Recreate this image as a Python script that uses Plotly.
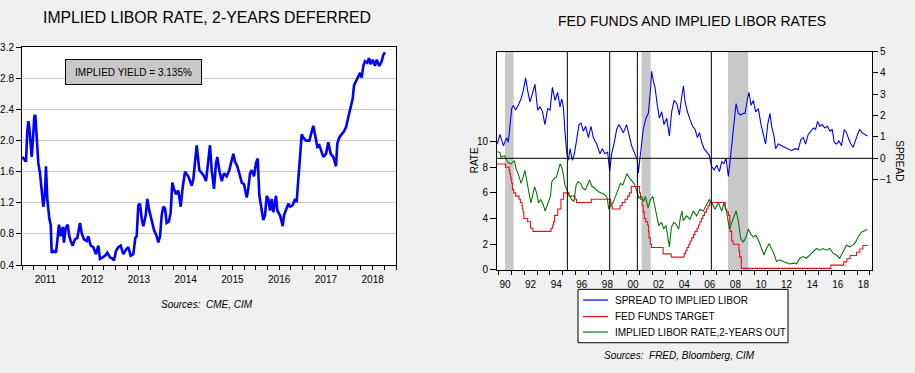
import plotly.graph_objects as go

W, H = 915, 373

# ---------------- Left chart: implied LIBOR rate, 2-years deferred ----------------
libor_def_t = [2011.006, 2011.086, 2011.113, 2011.135, 2011.156, 2011.186, 2011.207, 2011.229, 2011.263,
               2011.285, 2011.314, 2011.349, 2011.385, 2011.421, 2011.456, 2011.492, 2011.513, 2011.541,
               2011.584, 2011.614, 2011.635, 2011.684, 2011.727, 2011.755, 2011.791, 2011.828, 2011.871,
               2011.898, 2011.935, 2011.978, 2012.012, 2012.042, 2012.084, 2012.134, 2012.183, 2012.241,
               2012.277, 2012.326, 2012.384, 2012.418, 2012.47, 2012.525, 2012.583, 2012.632, 2012.668,
               2012.726, 2012.775, 2012.825, 2012.882, 2012.94, 2012.968, 2013.011, 2013.06, 2013.111,
               2013.167, 2013.225, 2013.274, 2013.325, 2013.381, 2013.424, 2013.453, 2013.488, 2013.524,
               2013.56, 2013.595, 2013.646, 2013.68, 2013.723, 2013.774, 2013.824, 2013.881, 2013.916,
               2013.952, 2013.988, 2014.022, 2014.059, 2014.095, 2014.144, 2014.181, 2014.215, 2014.251,
               2014.294, 2014.343, 2014.395, 2014.437, 2014.487, 2014.557, 2014.63, 2014.664, 2014.737,
               2014.793, 2014.878, 2014.936, 2014.985, 2015.021, 2015.058, 2015.107, 2015.15, 2015.178,
               2015.22, 2015.272, 2015.321, 2015.379, 2015.434, 2015.486, 2015.52, 2015.556, 2015.605,
               2015.648, 2015.7, 2015.749, 2015.807, 2015.84, 2015.877, 2015.913, 2015.963, 2016.005,
               2016.042, 2016.076, 2016.127, 2016.161, 2016.198, 2016.234, 2016.269, 2016.305, 2016.341,
               2016.375, 2016.433, 2016.461, 2016.519, 2016.555, 2016.577, 2016.604, 2016.647, 2016.696,
               2016.733, 2016.79, 2016.84, 2016.876, 2016.889, 2016.932, 2016.961, 2016.983, 2017.017,
               2017.075, 2017.146, 2017.197, 2017.231, 2017.267, 2017.317, 2017.36, 2017.396, 2017.445,
               2017.503, 2017.552, 2017.603, 2017.659, 2017.717, 2017.744, 2017.787, 2017.838, 2017.888,
               2017.93, 2017.98, 2018.031, 2018.074, 2018.102, 2018.144, 2018.193, 2018.23, 2018.266,
               2018.301, 2018.337, 2018.386, 2018.422, 2018.459, 2018.502, 2018.551, 2018.587, 2018.643,
               2018.694, 2018.728, 2018.765]
libor_def_v = [1.79, 1.73, 2.12, 2.25, 2.17, 1.92, 1.79, 1.96, 2.31,
               2.33, 2.04, 1.71, 1.58, 1.30, 1.15, 1.33, 1.67, 1.25,
               1.00, 0.92, 0.56, 0.58, 0.56, 0.71, 0.92, 0.77, 0.89,
               0.69, 0.88, 0.92, 0.77, 0.71, 0.65, 0.73, 0.75, 0.94,
               0.81, 0.73, 0.71, 0.77, 0.65, 0.63, 0.54, 0.65, 0.48,
               0.50, 0.52, 0.56, 0.50, 0.48, 0.46, 0.58, 0.63, 0.65,
               0.54, 0.60, 0.63, 0.52, 0.54, 0.75, 0.77, 1.17, 1.19,
               1.00, 0.90, 1.04, 1.25, 1.10, 0.96, 0.85, 0.77, 0.69,
               0.77, 1.04, 1.15, 1.13, 0.94, 0.96, 1.08, 1.46, 1.38,
               1.31, 1.36, 1.15, 1.40, 1.60, 1.54, 1.42, 1.50, 1.94,
               1.62, 1.56, 1.48, 1.79, 1.94, 1.62, 1.38, 1.71, 1.79,
               1.62, 1.48, 1.58, 1.54, 1.62, 1.75, 1.83, 1.73, 1.67,
               1.58, 1.46, 1.44, 1.27, 1.38, 1.58, 1.62, 1.54, 1.71,
               1.77, 1.30, 1.10, 0.98, 1.04, 1.29, 1.25, 1.10, 1.25,
               1.08, 1.29, 1.10, 1.04, 0.96, 0.90, 1.04, 1.10, 1.19,
               1.15, 1.17, 1.25, 1.21, 1.33, 1.71, 1.88, 2.08, 2.04,
               2.00, 2.00, 2.12, 2.19, 2.08, 1.92, 1.94, 1.88, 1.79,
               1.83, 1.98, 1.83, 1.79, 1.67, 1.96, 2.04, 2.08, 2.12,
               2.17, 2.29, 2.42, 2.54, 2.71, 2.77, 2.83, 2.87, 2.81,
               2.96, 3.02, 3.00, 3.06, 2.98, 3.04, 2.96, 3.04, 2.96,
               3.02, 3.10, 3.135]
left_years = [2011, 2012, 2013, 2014, 2015, 2016, 2017, 2018]
left_yticks = [0.4, 0.8, 1.2, 1.6, 2.0, 2.4, 2.8, 3.2]
implied_yield_label = "IMPLIED YIELD = 3.135%"

# ---------------- Right chart: fed funds and implied LIBOR rates ----------------
ff_t = [1989.88, 1990.54, 1990.82, 1990.87, 1990.93, 1990.97, 1991.02, 1991.08, 1991.18, 1991.33,
        1991.6, 1991.7, 1991.83, 1991.85, 1991.92, 1991.97, 1992.27, 1992.5, 1992.68, 1994.09,
        1994.23, 1994.3, 1994.38, 1994.62, 1994.87, 1995.08, 1995.5, 1995.97, 1996.08, 1997.24,
        1998.74, 1998.79, 1998.88, 1999.49, 1999.65, 1999.88, 2000.08, 2000.22, 2000.37, 2001.01,
        2001.08, 2001.22, 2001.3, 2001.38, 2001.49, 2001.64, 2001.71, 2001.75, 2001.85, 2001.94,
        2002.85, 2003.48, 2004.49, 2004.61, 2004.72, 2004.86, 2004.96, 2005.09, 2005.22, 2005.34,
        2005.5, 2005.61, 2005.72, 2005.84, 2005.96, 2006.08, 2006.24, 2006.36, 2006.49, 2007.71,
        2007.83, 2007.95, 2008.06, 2008.08, 2008.21, 2008.33, 2008.77, 2008.83, 2008.96, 2015.96,
        2016.96, 2017.21, 2017.46, 2017.96, 2018.22, 2018.46, 2018.82]
ff_v = [8.25, 8.0, 7.75, 7.5, 7.25, 7.0, 6.75, 6.25, 6.0, 5.75,
        5.5, 5.25, 5.0, 4.75, 4.5, 4.0, 3.75, 3.25, 3.0, 3.25,
        3.5, 3.75, 4.25, 4.75, 5.5, 6.0, 5.75, 5.5, 5.25, 5.5,
        5.25, 5.0, 4.75, 5.0, 5.25, 5.5, 5.75, 6.0, 6.5, 6.0,
        5.5, 5.0, 4.5, 4.0, 3.75, 3.5, 3.0, 2.5, 2.0, 1.75,
        1.25, 1.0, 1.25, 1.5, 1.75, 2.0, 2.25, 2.5, 2.75, 3.0,
        3.25, 3.5, 3.75, 4.0, 4.25, 4.5, 4.75, 5.0, 5.25, 4.75,
        4.5, 4.25, 3.5, 3.0, 2.25, 2.0, 1.5, 1.0, 0.125, 0.375,
        0.625, 0.875, 1.125, 1.375, 1.625, 1.9, 1.9]

impl_t = [1989.9, 1990.1, 1990.19, 1990.45, 1990.71, 1990.97, 1991.23, 1991.36, 1991.57, 1991.75,
          1991.93, 1992.06, 1992.19, 1992.34, 1992.52, 1992.65, 1992.81, 1992.97, 1993.12, 1993.3,
          1993.48, 1993.64, 1993.74, 1993.9, 1994.05, 1994.16, 1994.34, 1994.52, 1994.67, 1994.8,
          1994.93, 1995.05, 1995.18, 1995.31, 1995.5, 1995.7, 1995.88, 1996.06, 1996.22, 1996.4,
          1996.58, 1996.79, 1997.0, 1997.1, 1997.31, 1997.52, 1997.78, 1998.04, 1998.3, 1998.48,
          1998.61, 1998.74, 1998.93, 1999.13, 1999.34, 1999.52, 1999.7, 1999.9, 2000.03, 2000.17,
          2000.38, 2000.56, 2000.74, 2000.95, 2001.16, 2001.34, 2001.47, 2001.68, 2001.86, 2002.05,
          2002.2, 2002.38, 2002.51, 2002.72, 2002.9, 2003.08, 2003.24, 2003.34, 2003.5, 2003.68,
          2003.86, 2004.07, 2004.2, 2004.33, 2004.43, 2004.69, 2004.95, 2005.21, 2005.47, 2005.73,
          2005.99, 2006.26, 2006.46, 2006.65, 2006.91, 2007.17, 2007.43, 2007.61, 2007.82, 2008.03,
          2008.21, 2008.39, 2008.55, 2008.73, 2008.91, 2009.12, 2009.33, 2009.51, 2009.69, 2009.9,
          2010.1, 2010.36, 2010.55, 2010.73, 2010.93, 2011.14, 2011.32, 2011.5, 2011.71, 2011.97,
          2012.23, 2012.49, 2012.75, 2013.01, 2013.27, 2013.53, 2013.79, 2014.05, 2014.31, 2014.57,
          2014.83, 2015.09, 2015.35, 2015.61, 2015.87, 2016.13, 2016.39, 2016.65, 2016.91, 2017.17,
          2017.43, 2017.69, 2017.9, 2018.08, 2018.34, 2018.6, 2018.8]
impl_v = [9.2, 9.15, 8.77, 8.9, 8.39, 8.26, 8.51, 7.88, 7.38, 6.74,
          7.25, 7.76, 7.0, 6.24, 5.22, 5.73, 6.49, 5.98, 5.22, 5.48,
          5.1, 4.59, 4.84, 5.35, 5.73, 6.87, 7.12, 7.25, 7.88, 8.26,
          8.01, 7.5, 6.62, 6.24, 5.86, 5.48, 5.35, 6.62, 6.87, 6.74,
          6.36, 6.24, 6.74, 7.0, 6.49, 6.36, 6.11, 5.98, 5.86, 5.6,
          4.72, 4.97, 5.22, 5.73, 6.36, 6.74, 6.62, 7.12, 7.5, 7.25,
          7.0, 6.74, 6.36, 5.6, 5.73, 5.35, 5.73, 4.84, 5.48, 5.73,
          4.97, 4.21, 3.45, 3.7, 3.19, 3.45, 2.56, 1.8, 3.32, 3.7,
          3.57, 3.19, 4.08, 4.59, 3.83, 4.21, 3.95, 4.59, 4.21, 4.72,
          4.59, 5.1, 5.48, 5.22, 4.72, 5.22, 4.59, 5.22, 4.46, 3.19,
          3.7, 4.08, 4.59, 3.83, 2.43, 2.18, 2.56, 3.19, 2.81, 2.56,
          2.69, 2.18, 1.67, 1.16, 1.67, 2.05, 1.67, 1.29, 0.66, 0.79,
          0.66, 0.53, 0.46, 0.53, 0.48, 0.91, 1.04, 0.91, 1.16, 1.42,
          1.67, 1.54, 1.67, 1.54, 1.67, 1.29, 1.16, 0.91, 1.42, 1.93,
          1.8, 1.93, 2.18, 2.56, 2.94, 3.07, 3.14]

spread_t = [1989.9, 1990.11, 1990.37, 1990.63, 1990.76, 1990.89, 1991.02, 1991.15, 1991.33, 1991.54,
            1991.75, 1991.93, 1992.11, 1992.27, 1992.45, 1992.64, 1992.84, 1993.05, 1993.23, 1993.42,
            1993.62, 1993.83, 1994.02, 1994.2, 1994.41, 1994.61, 1994.8, 1994.93, 1995.06, 1995.19,
            1995.32, 1995.45, 1995.58, 1995.76, 1995.92, 1996.1, 1996.28, 1996.44, 1996.62, 1996.8,
            1997.01, 1997.22, 1997.4, 1997.66, 1997.92, 1998.1, 1998.31, 1998.52, 1998.68, 1998.83,
            1999.04, 1999.22, 1999.4, 1999.61, 1999.74, 2000.0, 2000.13, 2000.39, 2000.65, 2000.84,
            2000.91, 2001.1, 2001.3, 2001.51, 2001.7, 2001.88, 2001.95, 2002.09, 2002.22, 2002.4,
            2002.56, 2002.74, 2002.92, 2003.13, 2003.34, 2003.52, 2003.71, 2003.92, 2004.12, 2004.3,
            2004.44, 2004.57, 2004.75, 2004.96, 2005.16, 2005.35, 2005.53, 2005.69, 2005.87, 2006.05,
            2006.26, 2006.46, 2006.65, 2006.83, 2007.04, 2007.25, 2007.43, 2007.61, 2007.77, 2007.95,
            2008.13, 2008.34, 2008.55, 2008.73, 2008.91, 2009.12, 2009.25, 2009.46, 2009.56, 2009.72,
            2009.9, 2010.08, 2010.29, 2010.5, 2010.68, 2010.86, 2011.02, 2011.2, 2011.33, 2011.51,
            2011.64, 2011.85, 2012.11, 2012.37, 2012.63, 2012.89, 2013.15, 2013.41, 2013.62, 2013.8,
            2013.98, 2014.19, 2014.4, 2014.58, 2014.76, 2014.92, 2015.1, 2015.28, 2015.49, 2015.7,
            2015.88, 2016.06, 2016.22, 2016.4, 2016.58, 2016.79, 2017.0, 2017.18, 2017.36, 2017.52,
            2017.7, 2017.88, 2018.04, 2018.22, 2018.4, 2018.61, 2018.82]
spread_v = [0.67, 1.12, 0.59, 0.97, 0.75, 1.5, 2.33, 2.48, 2.26, 2.48,
            2.79, 3.17, 3.77, 3.17, 2.64, 3.02, 3.47, 2.26, 2.41, 2.2,
            1.58, 2.33, 2.26, 3.32, 2.71, 3.09, 2.41, 2.79, 2.41, 1.2,
            0.29, -0.09, 0.45, -0.09, 0.21, 0.89, 1.58, 1.65, 1.27, 1.5,
            0.97, 1.5, 0.97, 0.67, 0.21, 0.45, 0.21, 0.29, -0.62, 0.21,
            0.74, 1.35, 1.58, 1.35, 1.2, 1.58, 1.2, 0.59, 0.21, -0.09,
            -0.7, 0.29, 1.35, 1.88, 2.11, 3.32, 4.08, 3.62, 3.32, 2.48,
            1.88, 2.18, 1.58, 1.88, 1.05, 2.18, 2.71, 2.56, 2.03, 2.86,
            3.39, 2.64, 2.18, 1.8, 1.5, 1.35, 0.97, 1.2, 0.74, 0.45,
            0.29, 0.14, -0.39, -0.55, -0.32, -0.62, -0.17, -0.24, 0.0, -0.85,
            0.14, 1.35, 2.56, 2.11, 2.03, 2.11, 2.1, 2.86, 3.09, 2.48,
            2.71, 2.18, 2.33, 1.58, 1.05, 0.67, 1.58, 2.11, 1.5, 1.05,
            0.45, 0.67, 0.59, 0.52, 0.45, 0.36, 0.45, 0.41, 0.89, 0.97,
            0.67, 1.12, 1.27, 1.42, 1.35, 1.73, 1.5, 1.58, 1.42, 1.5,
            1.27, 1.35, 0.74, 0.67, 0.82, 0.59, 1.35, 1.2, 0.89, 0.67,
            0.52, 0.89, 1.12, 1.35, 1.2, 1.12, 1.05]

recession_start = [1990.5, 2001.17, 2007.92]
recession_end = [1991.17, 2001.88, 2009.5]
policy_turns = [1995.37, 1998.68, 2000.84, 2006.62]
right_label_years = [1990, 1992, 1994, 1996, 1998, 2000, 2002, 2004, 2006, 2008, 2010, 2012, 2014, 2016, 2018]
rate_ticks = [0, 2, 4, 6, 8, 10]
spread_ticks = [-1, 0, 1, 2, 3, 4, 5]

series_names = ["SPREAD TO IMPLIED LIBOR", "FED FUNDS TARGET", "IMPLIED LIBOR RATE,2-YEARS OUT"]
series_colors = ["#0000ff", "#e8101a", "#0a780a"]

FONT = "Liberation Sans, Arial, sans-serif"


def px(xp):
    return xp / W


def py(yp):
    return 1 - yp / H


fig = go.Figure()

# left chart
fig.add_trace(go.Scatter(x=libor_def_t, y=libor_def_v, mode="lines", xaxis="x", yaxis="y",
                         line=dict(color="#0000ff", width=2.6), showlegend=False, hoverinfo="skip"))

# right chart
fig.add_trace(go.Scatter(x=spread_t, y=spread_v, mode="lines", xaxis="x2", yaxis="y3",
                         name=series_names[0], showlegend=False,
                         line=dict(color=series_colors[0], width=1.1)))
fig.add_trace(go.Scatter(x=ff_t, y=ff_v, mode="lines", xaxis="x2", yaxis="y2",
                         name=series_names[1], showlegend=False,
                         line=dict(color=series_colors[1], width=1.1, shape="hv")))
fig.add_trace(go.Scatter(x=impl_t, y=impl_v, mode="lines", xaxis="x2", yaxis="y2",
                         name=series_names[2], showlegend=False,
                         line=dict(color=series_colors[2], width=1.1)))

shapes = []
for a, b in zip(recession_start, recession_end):
    shapes.append(dict(type="rect", xref="x2", yref="y2 domain", x0=a, x1=b, y0=0, y1=1,
                       fillcolor="#c8c8c8", line=dict(width=0), layer="below"))
for t in policy_turns:
    shapes.append(dict(type="line", xref="x2", yref="y2 domain", x0=t, x1=t, y0=0, y1=1,
                       line=dict(color="black", width=1)))
shapes.append(dict(type="line", xref="x2 domain", yref="y3", x0=0, x1=1, y0=0, y1=0,
                   line=dict(color="black", width=1)))

# legend box (drawn as a boxed key below the right chart)
LEG_L, LEG_R, LEG_T, LEG_B = 578, 788, 293, 348
shapes.append(dict(type="rect", xref="paper", yref="paper", x0=px(LEG_L), x1=px(LEG_R),
                   y0=py(LEG_B), y1=py(LEG_T), fillcolor="white", line=dict(color="black", width=1)))
legend_rows = [304, 321, 337]
annotations = []
for name, col, ry in zip(series_names, series_colors, legend_rows):
    shapes.append(dict(type="line", xref="paper", yref="paper", x0=px(583), x1=px(608),
                       y0=py(ry), y1=py(ry), line=dict(color=col, width=1.2)))
    annotations.append(dict(text=name, xref="paper", yref="paper", x=px(613), y=py(ry),
                            xanchor="left", yanchor="middle", showarrow=False,
                            font=dict(family=FONT, size=10, color="black")))

axis_common = dict(showline=True, linecolor="black", linewidth=1, mirror=True, zeroline=False,
                   tickfont=dict(family=FONT, size=10, color="black"))

annotations += [
    dict(text="IMPLIED LIBOR RATE, 2-YEARS DEFERRED", xref="paper", yref="paper",
         x=px(207), y=py(13), xanchor="center", yanchor="middle", showarrow=False,
         font=dict(family=FONT, size=15.8, color="black")),
    dict(text="FED FUNDS AND IMPLIED LIBOR RATES", xref="paper", yref="paper",
         x=px(692), y=py(17), xanchor="center", yanchor="middle", showarrow=False,
         font=dict(family=FONT, size=14, color="black")),
    dict(text=implied_yield_label, xref="paper", yref="paper",
         x=px(133.5), y=py(69.5), xanchor="center", yanchor="middle", showarrow=False,
         bgcolor="#c8c8c8", bordercolor="black", borderwidth=1, borderpad=3,
         width=129, height=18,
         font=dict(family=FONT, size=10, color="black")),
    dict(text="RATE", xref="paper", yref="paper", x=px(474), y=py(160),
         xanchor="center", yanchor="middle", showarrow=False, textangle=-90,
         font=dict(family=FONT, size=10, color="black")),
    dict(text="SPREAD", xref="paper", yref="paper", x=px(900), y=py(160),
         xanchor="center", yanchor="middle", showarrow=False, textangle=90,
         font=dict(family=FONT, size=10, color="black")),
    dict(text="<i>Sources:  CME, CIM</i>", xref="paper", yref="paper",
         x=px(207), y=py(309), xanchor="center", yanchor="middle", showarrow=False,
         font=dict(family=FONT, size=10, color="black")),
    dict(text="<i>Sources:  FRED, Bloomberg, CIM</i>", xref="paper", yref="paper",
         x=px(679), y=py(361), xanchor="center", yanchor="middle", showarrow=False,
         font=dict(family=FONT, size=10, color="black")),
]

fig.update_layout(
    width=W, height=H,
    margin=dict(l=0, r=0, t=0, b=0),
    paper_bgcolor="#f0f0f0", plot_bgcolor="white",
    font=dict(family=FONT, size=10, color="black"),
    hovermode=False,
    showlegend=False,
    xaxis=dict(domain=[px(22), px(396)], anchor="y", range=[2011, 2019],
               tickmode="array", tickvals=[y + 0.5 for y in left_years],
               ticktext=[str(y) for y in left_years],
               ticks="outside", ticklen=5, tickcolor="rgba(0,0,0,0)", showgrid=False,
               minor=dict(tickmode="linear", tick0=2011, dtick=0.25, ticks="outside",
                          ticklen=4, tickcolor="black", showgrid=False),
               **axis_common),
    yaxis=dict(domain=[py(268), py(43.5)], anchor="x", range=[0.4, 3.2],
               tickmode="array", tickvals=left_yticks, tickformat=".1f",
               ticks="outside", ticklen=5, tickcolor="black",
               showgrid=True, gridcolor="#c8c8c8", gridwidth=1,
               **axis_common),
    xaxis2=dict(domain=[px(497), px(872)], anchor="y2", range=[1989.875, 2019.17],
                tickmode="array", tickvals=[y + 0.5 for y in right_label_years],
                ticktext=[str(y)[2:] for y in right_label_years],
                ticks="outside", ticklen=5, tickcolor="rgba(0,0,0,0)", showgrid=False,
                minor=dict(tickmode="linear", tick0=1990, dtick=1, ticks="outside",
                           ticklen=4, tickcolor="black", showgrid=False),
                **axis_common),
    yaxis2=dict(domain=[py(273), py(48)], anchor="x2", range=[0, 17],
                tickmode="array", tickvals=rate_ticks,
                ticks="outside", ticklen=6, tickcolor="black", showgrid=False,
                **axis_common),
    yaxis3=dict(anchor="x2", overlaying="y2", side="right", range=[-5.23, 5.0],
                tickmode="array", tickvals=spread_ticks,
                ticks="outside", ticklen=5, tickcolor="black", showgrid=False,
                showline=True, linecolor="black", zeroline=False,
                tickfont=dict(family=FONT, size=10, color="black")),
    shapes=shapes,
    annotations=annotations,
)

fig.write_html("out.html", config={"displayModeBar": False, "staticPlot": True},
               post_script="document.body.style.margin='0px';")
